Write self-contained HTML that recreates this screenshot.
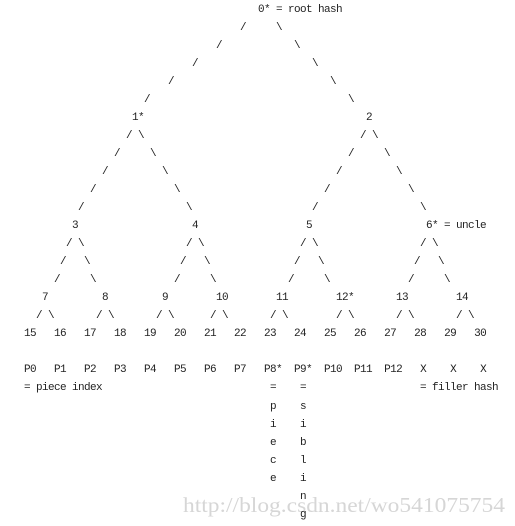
<!DOCTYPE html>
<html><head><meta charset="utf-8"><style>
html,body{margin:0;padding:0;background:#fff;}
#c{position:relative;width:515px;height:526px;overflow:hidden;}
.t{position:absolute;font-family:"Liberation Mono",monospace;font-size:11px;letter-spacing:-0.6px;line-height:18px;height:18px;white-space:pre;color:#222;}
#wm{position:absolute;left:0;top:0;}
</style></head><body>
<div id="c">
<svg id="wm" width="515" height="526"><text x="183" y="512" font-family="Liberation Serif, serif" font-size="21" fill="#d6d6d6" textLength="322" lengthAdjust="spacingAndGlyphs">http://blog.csdn.net/wo541075754</text></svg>
</div>
<script>
const items=[
[0,43,"0* = root hash","root-node"],
[1,40,"/","edge"],[1,46,"\\","edge"],
[2,36,"/","edge"],[2,49,"\\","edge"],
[3,32,"/","edge"],[3,52,"\\","edge"],
[4,28,"/","edge"],[4,55,"\\","edge"],
[5,24,"/","edge"],[5,58,"\\","edge"],
[6,22,"1*","node-1"],[6,61,"2","node-2"],
[7,21,"/ \\","edge"],[7,60,"/ \\","edge"],
[8,19,"/","edge"],[8,25,"\\","edge"],[8,58,"/","edge"],[8,64,"\\","edge"],
[9,17,"/","edge"],[9,27,"\\","edge"],[9,56,"/","edge"],[9,66,"\\","edge"],
[10,15,"/","edge"],[10,29,"\\","edge"],[10,54,"/","edge"],[10,68,"\\","edge"],
[11,13,"/","edge"],[11,31,"\\","edge"],[11,52,"/","edge"],[11,70,"\\","edge"],
[12,12,"3","node-3"],[12,32,"4","node-4"],[12,51,"5","node-5"],[12,71,"6* = uncle","node-6-uncle"],
[13,11,"/ \\","edge"],[13,31,"/ \\","edge"],[13,50,"/ \\","edge"],[13,70,"/ \\","edge"],
[14,10,"/","edge"],[14,14,"\\","edge"],[14,30,"/","edge"],[14,34,"\\","edge"],[14,49,"/","edge"],[14,53,"\\","edge"],[14,69,"/","edge"],[14,73,"\\","edge"],
[15,9,"/","edge"],[15,15,"\\","edge"],[15,29,"/","edge"],[15,35,"\\","edge"],[15,48,"/","edge"],[15,54,"\\","edge"],[15,68,"/","edge"],[15,74,"\\","edge"],
[16,7,"7","node-7"],[16,17,"8","node-8"],[16,27,"9","node-9"],[16,36,"10","node-10"],[16,46,"11","node-11"],[16,56,"12*","node-12"],[16,66,"13","node-13"],[16,76,"14","node-14"],
[17,6,"/ \\","edge"],[17,16,"/ \\","edge"],[17,26,"/ \\","edge"],[17,35,"/ \\","edge"],[17,45,"/ \\","edge"],[17,56,"/ \\","edge"],[17,66,"/ \\","edge"],[17,76,"/ \\","edge"],
[18,4,"15   16   17   18   19   20   21   22   23   24   25   26   27   28   29   30","leaf-nodes"],
[20,4,"P0   P1   P2   P3   P4   P5   P6   P7   P8*  P9*  P10  P11  P12   X    X    X","piece-labels"],
[21,4,"= piece index","piece-index-note"],[21,45,"=","piece-eq"],[21,50,"=","sibling-eq"],[21,70,"= filler hash","filler-hash-note"]
];
const piece="piece",sib="sibling";
const c=document.getElementById('c');
for(const [r,col,txt,nm] of items){
 const d=document.createElement('div');d.className='t';
 d.style.top=(18*r+1)+'px';d.style.left=(6*col)+'px';d.textContent=txt;
 
 
 c.appendChild(d);
}
for(let i=0;i<piece.length;i++){
 const d=document.createElement('div');d.className='t';
 d.style.top=(18*(22+i)+2)+'px';d.style.left=(6*45)+'px';d.textContent=piece[i];
 
 
 c.appendChild(d);
}
for(let i=0;i<sib.length;i++){
 const d=document.createElement('div');d.className='t';
 d.style.top=(18*(22+i)+2)+'px';d.style.left=(6*50)+'px';d.textContent=sib[i];
 
 
 c.appendChild(d);
}
</script>
</body></html>
